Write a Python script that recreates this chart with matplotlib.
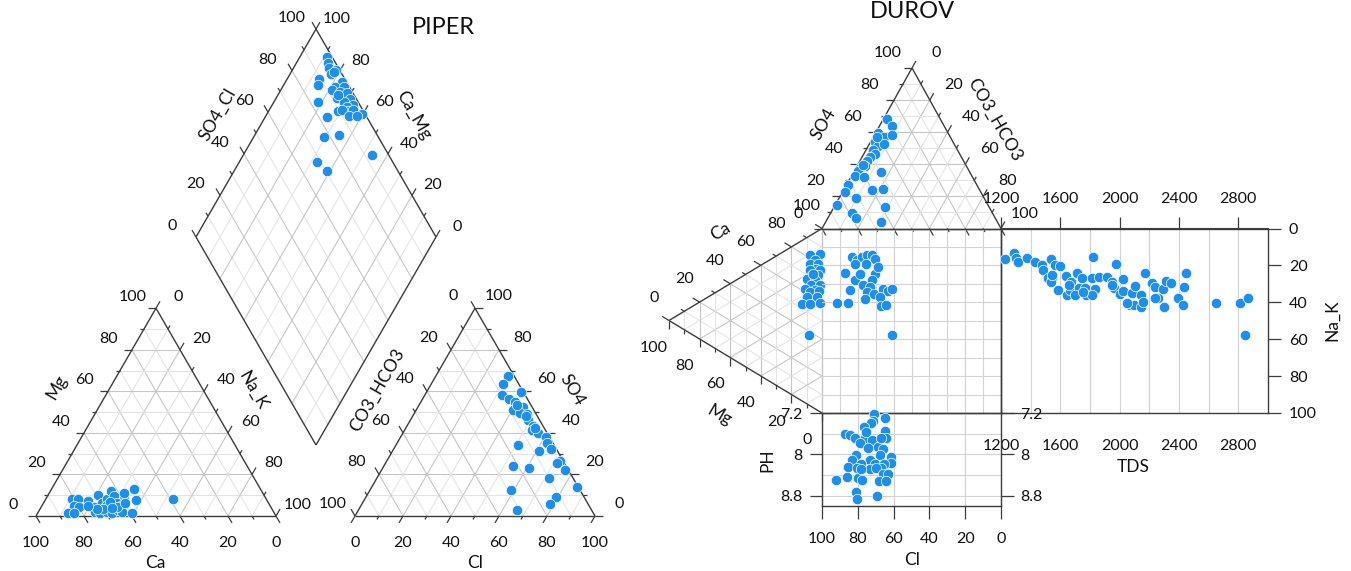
import numpy as np
import matplotlib
matplotlib.use("Agg")
import matplotlib.pyplot as plt

plt.rcParams["font.family"] = ["Lato", "DejaVu Sans"]

# ---------------------------------------------------------------------------
# Sample data (percent of meq/l, TDS in mg/l)
# ---------------------------------------------------------------------------

# Piper cation triangle (Na_K = 100 - Ca - Mg)
CAT_CA = [81.1, 78.6, 74.9, 81.6, 79.7, 85.7, 83.4, 73.6, 69.0, 69.2, 66.4, 62.7,
          62.6, 58.7, 57.6, 52.9, 54.6, 74.4, 72.7, 68.4, 65.5, 63.2, 61.6, 69.5,
          67.4, 64.3, 63.3, 59.3, 64.1, 59.9, 65.7, 38.8, 70.4, 66.6, 73.1, 75.8]
CAT_MG = [8.0, 8.0, 7.2, 4.8, 4.5, 1.6, 1.6, 4.2, 10.1, 6.4, 8.0, 12.2,
          9.6, 9.6, 11.2, 12.8, 7.7, 2.1, 1.3, 4.8, 5.3, 6.4, 5.3, 2.1,
          1.6, 2.9, 2.1, 1.6, 4.5, 6.1, 6.9, 8.0, 3.2, 3.7, 3.2, 4.8]

# Piper anion triangle (CO3_HCO3 = 100 - Cl - SO4)
AN_CL = [30.2, 30.0, 32.0, 39.3, 36.2, 39.2, 43.8, 40.2, 44.0, 47.0, 49.1,
         52.6, 52.9, 56.5, 60.6, 62.5, 65.5, 61.1, 51.0, 72.1, 71.5, 76.6,
         53.7, 60.9, 71.9, 85.3, 58.6, 79.3, 78.5, 66.2, 47.2, 40.7, 53.9]
AN_SO4 = [67.4, 63.5, 58.2, 59.5, 56.2, 55.0, 52.6, 51.0, 49.4, 49.1, 46.2,
          43.3, 41.4, 39.8, 37.9, 35.3, 32.1, 31.4, 34.2, 26.6, 25.6, 22.1,
          24.1, 23.3, 18.1, 14.1, 12.5, 9.0, 5.6, 2.9, 48.1, 53.4, 42.2]

# Piper diamond
DIA_SO4_CL = [97.6, 96.9, 96.0, 95.4, 98.4, 89.2, 87.2, 97.9, 94.0, 97.9, 91.9,
              94.9, 97.3, 92.0, 97.3, 94.3, 97.3, 94.1, 89.6, 93.8, 91.2, 96.1,
              92.9, 98.8, 96.1, 83.2, 83.4, 84.1, 77.5, 92.9, 68.3, 70.3, 97.3, 93.4]
DIA_CA_MG = [88.7, 86.6, 85.2, 82.9, 81.9, 86.7, 85.8, 76.5, 78.2, 74.3, 78.8,
             74.9, 71.7, 74.7, 69.0, 70.7, 66.2, 68.5, 71.0, 66.8, 69.8, 65.0,
             65.4, 60.2, 62.2, 81.8, 74.5, 64.9, 70.8, 46.5, 67.7, 61.4, 81.9, 74.8]

# Durov anion triangle (Cl = 100 - SO4 - CO3_HCO3)
DUR_SO4 = [68.1, 64.0, 59.8, 57.3, 58.4, 54.2, 51.1, 52.8, 49.1, 46.6, 44.5, 41.8,
           39.1, 37.7, 35.6, 35.0, 32.5, 31.9, 27.3, 22.5, 23.8, 24.8, 19.1, 14.9,
           13.2, 9.8, 6.6, 3.9, 39.8, 57.3]
DUR_CO3 = [1.9, 6.8, 1.4, 6.0, 9.9, 2.3, 5.8, 8.3, 4.0, 6.2, 4.4, 4.0,
           4.4, 2.3, 2.4, 15.4, 2.1, 7.6, 0.6, 1.5, 16.1, 21.7, 9.4, 0.7,
           28.5, 12.0, 15.5, 31.0, 3.1, 1.7]

# Durov cation triangle (Na_K = 100 - Ca - Mg)
DUR_CA = [81.5, 85.3, 80.8, 77.0, 79.4, 76.2, 73.4, 77.0, 71.2, 73.4, 67.8, 69.6,
          65.6, 68.5, 61.8, 64.2, 61.6, 65.1, 57.8, 61.1, 52.2, 55.0, 59.0, 37.9, 72.6]
DUR_MG = [7.8, 1.3, 4.6, 7.8, 2.4, 4.1, 7.8, 1.3, 6.7, 2.4, 10.0, 4.6,
          7.2, 1.3, 11.1, 4.6, 7.8, 2.0, 10.0, 3.5, 13.3, 7.8, 1.3, 8.5, 5.7]

# Durov central square
SQ_CL = [91.8, 85.3, 83.4, 80.6, 77.8, 75.0, 72.2, 70.4, 75.6, 81.6, 87.2, 81.6,
         70.4, 72.2, 76.9, 84.4, 73.2, 75.0, 70.8, 65.8, 63.0, 76.0, 67.6, 67.0,
         64.4, 61.1, 78.8, 68.5, 60.7]
SQ_NAK = [40.4, 40.4, 15.5, 17.3, 15.5, 14.6, 14.1, 16.4, 19.1, 19.5, 24.2, 28.1,
          24.5, 28.1, 30.8, 33.1, 31.7, 34.4, 35.3, 32.6, 33.9, 38.0, 37.1, 42.2,
          41.6, 57.8, 24.5, 20.9, 33.0]

# Durov TDS panel
TDS = [1228, 1288, 1299, 1315, 1378, 1429, 1478, 1485, 1534, 1564, 1595, 1519,
       1541, 1534, 1586, 1635, 1669, 1646, 1662, 1714, 1747, 1725, 1702, 1765,
       1774, 1819, 1814, 1837, 1814, 1859, 1915, 1949, 1976, 1960, 2020, 2005,
       2020, 2072, 2094, 2083, 2105, 2146, 2146, 2155, 2168, 2218, 2240, 2258,
       2289, 2296, 2311, 2347, 2392, 2424, 2437, 2446, 2652, 2811, 2863, 2845,
       1756, 1949, 2050, 2240, 1658, 1546]
TDS_NAK = [16.6, 13.5, 15.8, 18.0, 16.2, 18.3, 19.8, 22.5, 16.6, 19.8, 20.1, 26.6,
           26.6, 29.1, 33.3, 25.5, 29.1, 36.0, 33.3, 24.3, 27.0, 32.0, 36.0, 32.0,
           36.0, 15.3, 27.0, 32.7, 36.3, 26.1, 26.1, 28.8, 19.4, 32.0, 27.3, 35.6,
           33.8, 41.4, 41.4, 35.1, 30.9, 36.3, 42.3, 39.6, 24.3, 29.7, 31.5, 37.4,
           32.7, 42.3, 28.4, 29.7, 37.4, 41.7, 31.5, 24.3, 40.5, 40.5, 37.4, 57.6,
           34.2, 30.6, 40.5, 37.4, 30.6, 25.2]

# Durov pH panel
PH_CL = [71.0, 65.0, 71.5, 72.8, 76.6, 64.7, 87.4, 84.6, 81.4, 76.2, 64.1, 79.0,
         72.1, 74.3, 68.8, 66.0, 80.8, 83.3, 67.8, 73.4, 61.7, 61.3, 78.4, 85.5,
         80.7, 70.2, 73.4, 65.4, 67.3, 69.7, 66.0, 63.2, 92.0, 85.9, 79.9, 77.7,
         68.2, 64.5, 81.2, 80.3, 69.1, 78.1, 66.9, 75.3]
PH = [7.22, 7.30, 7.35, 7.39, 7.48, 7.55, 7.60, 7.63, 7.69, 7.68, 7.69, 7.78,
      7.73, 7.88, 7.86, 7.90, 8.01, 8.10, 8.01, 8.10, 8.05, 8.16, 8.19, 8.24,
      8.26, 8.18, 8.29, 8.18, 8.26, 8.27, 8.38, 8.38, 8.50, 8.44, 8.45, 8.50,
      8.52, 8.52, 8.72, 8.86, 8.80, 8.29, 7.68, 7.56]

# ---------------------------------------------------------------------------
# Layout (pixel coordinates, y pointing down)
# ---------------------------------------------------------------------------
W, H = 1351, 571
PIPER_CAT = [(36, 516), (156, 308.2), (276, 516)]      # Ca, Mg, Na_K
PIPER_AN = [(355, 516), (475, 308.2), (595, 516)]      # CO3_HCO3, SO4, Cl
DIA_B, DIA_L, DIA_R = (316, 445), (196, 237), (436, 237)
DUROV_AN = [(912, 68), (822, 228.5), (1001, 228.5)]    # SO4, Cl, CO3_HCO3
DUROV_CAT = [(669, 320.5), (822, 228.5), (822, 413)]   # Mg, Ca, Na_K
SQUARE_BOX = (822, 228.5, 1001, 413)
TDS_BOX = (1001, 228.5, 1268, 413)
PH_BOX = (822, 413, 1001, 506)

BLUE = "#1E8FEF"
EDGE = "#3c3c3c"
GRID_MAJOR = "#c6c6c6"
GRID_MINOR = "#e4e4e4"
GRID_BOX = "#d2d2d2"
TXT = "#111111"
TICK_FS = 11.5
LABEL_FS = 12.5
MARK = dict(s=56, c=BLUE, edgecolors="white", linewidths=0.5, zorder=5)

fig = plt.figure(figsize=(W / 100, H / 100), dpi=100)
bg = fig.add_axes([0, 0, 1, 1])
bg.set_xlim(0, W)
bg.set_ylim(H, 0)
bg.axis("off")


def seg(a, b, color, lw=0.8, z=1):
    bg.plot([a[0], b[0]], [a[1], b[1]], color=color, lw=lw, zorder=z,
            solid_capstyle="butt")


def to_xy(verts, *comps):
    """Ternary percentages -> pixel coordinates."""
    v = np.asarray(verts, float)
    c = np.column_stack([np.asarray(x, float) for x in comps]) / 100.0
    xy = c @ v
    return xy[:, 0], xy[:, 1]


def triangle(verts, axes, light_edges=()):
    v = np.asarray(verts, float)
    for k in range(1, 10):
        f = k / 10
        col = GRID_MAJOR if k % 2 == 0 else GRID_MINOR
        for i in range(3):
            j, l = (i + 1) % 3, (i + 2) % 3
            seg(f * v[i] + (1 - f) * v[j], f * v[i] + (1 - f) * v[l], col)
    for e in range(3):
        col = GRID_MAJOR if e in light_edges else EDGE
        seg(v[e], v[(e + 1) % 3], col, lw=1.0, z=2)
    # axis ticks follow the grid line direction out of the edge
    for i, l, offset in axes:
        j = 3 - i - l
        d = v[j] - v[l]
        d = d / np.hypot(*d)
        for k in range(11):
            f = k / 10
            p = f * v[i] + (1 - f) * v[j]
            seg(p, p + d * (8 if k % 2 == 0 else 4), EDGE, lw=0.9, z=2)
            if offset is not None and k % 2 == 0:
                bg.text(p[0] + offset[0], p[1] + offset[1], str(k * 10),
                        ha="center", va="center", fontsize=TICK_FS, color=TXT)


def diamond(b, l, r):
    b, l, r = (np.asarray(p, float) for p in (b, l, r))
    u, w = l - b, r - b            # Ca_Mg and SO4_Cl directions
    for k in range(1, 10):
        f = k / 10
        col = GRID_MAJOR if k % 2 == 0 else GRID_MINOR
        seg(b + f * w, b + f * w + u, col)
        seg(b + f * u, b + f * u + w, col)
    top = b + u + w
    for a, c in ((b, l), (l, top), (top, r), (r, b)):
        seg(a, c, EDGE, lw=1.0, z=2)
    du, dw = u / np.hypot(*u), w / np.hypot(*w)
    for k in range(11):
        f = k / 10
        n = 8 if k % 2 == 0 else 4
        p = l + f * w
        seg(p, p + du * n, EDGE, lw=0.9, z=2)
        q = r + f * u
        seg(q, q + dw * n, EDGE, lw=0.9, z=2)
        if k % 2 == 0:
            bg.text(p[0] - 24, p[1] - 11, str(k * 10), ha="center", va="center",
                    fontsize=TICK_FS, color=TXT)
            bg.text(q[0] + 21, q[1] - 10, str(k * 10), ha="center", va="center",
                    fontsize=TICK_FS, color=TXT)


def title(x, y, s, rot=0, size=LABEL_FS):
    bg.text(x, y, s, rotation=rot, ha="center", va="center", fontsize=size,
            color=TXT, rotation_mode="anchor")


# ---------------------------------------------------------------------------
# Piper
# ---------------------------------------------------------------------------
triangle(PIPER_CAT, [(0, 1, (0, 27)), (1, 2, (-23, -11)), (2, 0, (22, -11))])
triangle(PIPER_AN, [(0, 2, (-22, -12)), (1, 0, (24, -12)), (2, 1, (0, 27))])
diamond(DIA_B, DIA_L, DIA_R)

na = 100 - np.array(CAT_CA) - np.array(CAT_MG)
bg.scatter(*to_xy(PIPER_CAT, CAT_CA, CAT_MG, na), **MARK)
co3 = 100 - np.array(AN_CL) - np.array(AN_SO4)
bg.scatter(*to_xy(PIPER_AN, co3, AN_SO4, AN_CL), **MARK)
b, l, r = (np.asarray(p, float) for p in (DIA_B, DIA_L, DIA_R))
dia = (b + np.outer(np.array(DIA_CA_MG) / 100, l - b)
       + np.outer(np.array(DIA_SO4_CL) / 100, r - b))
bg.scatter(dia[:, 0], dia[:, 1], **MARK)

title(443, 27, "PIPER", size=17)
title(57, 387, "Mg", 60)
title(253, 390, "Na_K", -60)
title(155, 563, "Ca")
title(377, 390, "CO3_HCO3", 60)
title(572, 390, "SO4", -60)
title(475, 563, "Cl")
title(218, 115, "SO4_Cl", 60)
title(413, 115, "Ca_Mg", -60)

# ---------------------------------------------------------------------------
# Durov
# ---------------------------------------------------------------------------
triangle(DUROV_AN, [(0, 2, (-24, -15)), (2, 1, (24, -15)), (1, 0, None)])
triangle(DUROV_CAT, [(1, 2, (-15, -23)), (0, 1, (-15, 27))], light_edges=(1,))

cl = 100 - np.array(DUR_SO4) - np.array(DUR_CO3)
bg.scatter(*to_xy(DUROV_AN, DUR_SO4, cl, DUR_CO3), **MARK)
nak = 100 - np.array(DUR_CA) - np.array(DUR_MG)
bg.scatter(*to_xy(DUROV_CAT, DUR_MG, DUR_CA, nak), **MARK)


def panel(box):
    x0, y0, x1, y1 = box
    ax = fig.add_axes([x0 / W, 1 - y1 / H, (x1 - x0) / W, (y1 - y0) / H])
    ax.patch.set_alpha(0)
    for s in ax.spines.values():
        s.set_color(EDGE)
        s.set_linewidth(1.0)
    ax.tick_params(colors=EDGE, labelcolor=TXT, labelsize=TICK_FS, width=0.9)
    return ax


sq = panel(SQUARE_BOX)
sq.set_xlim(100, 0)
sq.set_ylim(100, 0)
for t in range(10, 100, 10):
    sq.axvline(t, color=GRID_BOX, lw=0.8, zorder=0)
    sq.axhline(t, color=GRID_BOX, lw=0.8, zorder=0)
sq.set_xticks([])
sq.set_yticks([])
sq.spines["left"].set_visible(False)
sq.scatter(SQ_CL, SQ_NAK, clip_on=False, **MARK)

tds = panel(TDS_BOX)
tds.set_xlim(1200, 3000)
tds.set_ylim(100, 0)
for t in range(1400, 3000, 200):
    tds.axvline(t, color=GRID_BOX, lw=0.8, zorder=0)
tds.set_xticks(range(1200, 2801, 400))
tds.tick_params(axis="x", length=0, pad=19)
top = tds.secondary_xaxis("top")
top.set_xticks(range(1200, 2801, 400))
top.tick_params(length=8, pad=8, labelsize=TICK_FS, colors=EDGE, labelcolor=TXT,
                width=0.9)
top.spines["top"].set_color(EDGE)
tds.yaxis.tick_right()
tds.set_yticks(range(0, 101, 20))
tds.tick_params(axis="y", length=9, pad=6)
tds.scatter(TDS, TDS_NAK, clip_on=False, **MARK)

ph = panel(PH_BOX)
ph.set_xlim(100, 0)
ph.set_ylim(9.0, 7.2)
for t in (80, 60, 40, 20):
    ph.axvline(t, color=GRID_BOX, lw=0.8, zorder=0)
for t in (7.6, 8.0, 8.4, 8.8):
    ph.axhline(t, color=GRID_BOX, lw=0.8, zorder=0)
ph.set_xticks(range(100, -1, -20))
ph.set_yticks([7.2, 8.0, 8.8])
ph.set_yticklabels(["7.2", "8", "8.8"])
ph.tick_params(axis="x", length=9, pad=10)
ph.tick_params(axis="y", left=True, right=True, labelleft=True, labelright=True,
               length=9, pad=5)
ph.scatter(PH_CL, PH, clip_on=False, **MARK)

title(912, 11, "DUROV", size=17)
title(823, 124, "SO4", 60)
title(995, 120, "CO3_HCO3", -60)
title(720, 232, "Ca", 30)
title(719, 415, "Mg", -30)
title(767, 460, "PH", 90)
title(912, 560, "Cl")
title(1133, 467, "TDS")
title(1332, 320, "Na_K", 90)

fig.savefig("out.png", dpi=100)
